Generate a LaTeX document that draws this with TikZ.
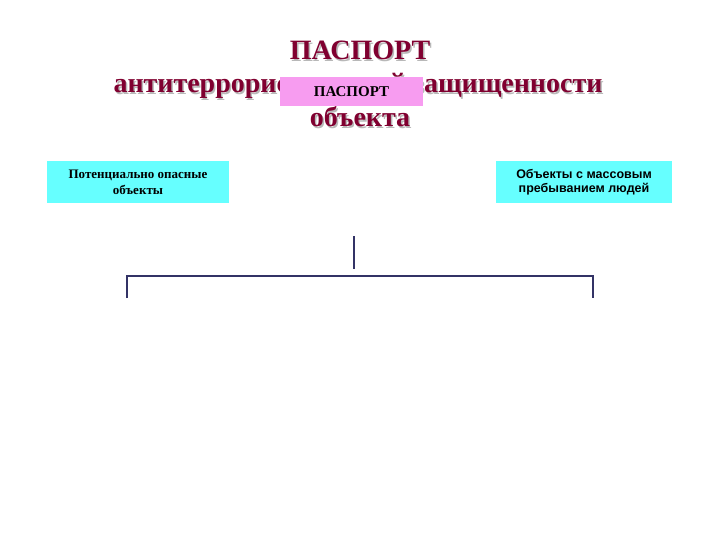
\documentclass[tikz,border=0pt]{standalone}
\usepackage{fontspec}
\setmainfont{Liberation Serif}
\newfontfamily\sansfont{Liberation Sans}
\definecolor{titlered}{HTML}{800030}
\definecolor{shadowgray}{HTML}{B8B8B8}
\definecolor{pinkbox}{HTML}{F79CF0}
\definecolor{cyanbox}{HTML}{66FFFF}
\definecolor{linenavy}{HTML}{333366}
\tikzset{
  titletext/.style={font=\fontsize{28}{30}\selectfont\bfseries, text=titlered, anchor=base, inner sep=0pt},
  shadowtext/.style={font=\fontsize{28}{30}\selectfont\bfseries, text=shadowgray, anchor=base, inner sep=0pt},
  infobox/.style={fill=cyanbox, draw=none, minimum height=42pt, align=center, inner sep=1pt},
  bracketline/.style={draw=linenavy, line width=2pt},
}
\begin{document}
\begin{tikzpicture}[x=1pt,y=-1pt]
\useasboundingbox[fill=white] (0,0) rectangle (720,540);
% title with shadow
\node[shadowtext] at (361.5,61.5) {ПАСПОРТ};
\node[titletext] (t1) at (360,60) {ПАСПОРТ};
\node[shadowtext] at (359.5,94.5) {антитеррористической защищенности};
\node[titletext] (t2) at (358,93) {антитеррористической защищенности};
\node[shadowtext] at (361.5,128.5) {объекта};
\node[titletext] (t3) at (360,127) {объекта};
% pink label
\node[fill=pinkbox, minimum width=143pt, minimum height=29pt, inner sep=0pt,
      font=\fontsize{15}{17}\selectfont\bfseries] (pass) at (351.5,91.5) {ПАСПОРТ};
% boxes
\node[infobox, minimum width=182pt, font=\fontsize{13}{16}\selectfont\bfseries] (left) at (138,182.5)
  {Потенциально опасные\\объекты};
\node[infobox, minimum width=176pt, font=\sansfont\fontsize{12.5}{14.5}\selectfont\bfseries] (right) at (584,182)
  {Объекты с массовым\\пребыванием людей};
% connectors
\coordinate (vtop) at (354,236);
\coordinate (vbot) at (354,269);
\coordinate (lfoot) at (127,298);
\coordinate (lcorner) at (127,276);
\coordinate (rcorner) at (593,276);
\coordinate (rfoot) at (593,298);
\draw[bracketline] (vtop) -- (vbot);
\draw[bracketline] (lfoot) -- (lcorner) -- (rcorner) -- (rfoot);
\end{tikzpicture}
\end{document}
